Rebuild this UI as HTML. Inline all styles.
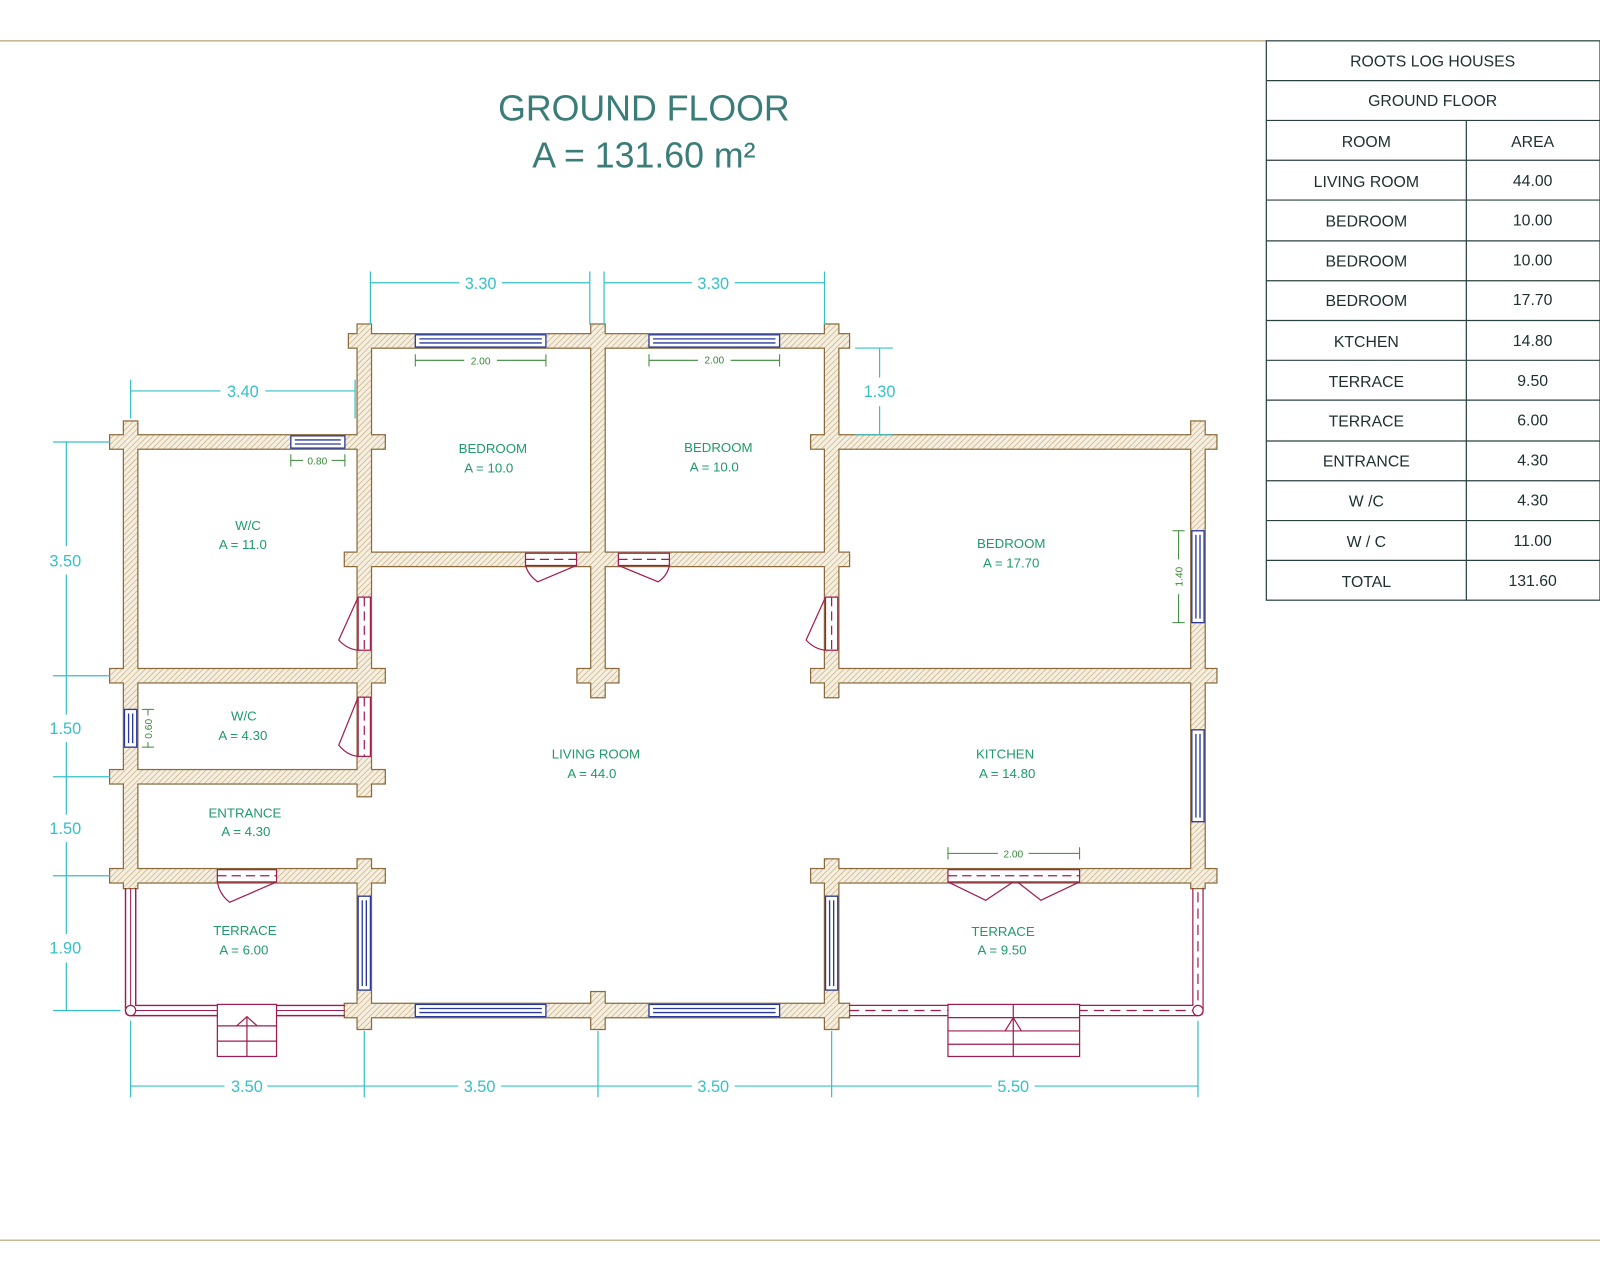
<!DOCTYPE html>
<html><head><meta charset="utf-8"><style>html,body{margin:0;padding:0;background:#fff}svg{display:block}</style></head>
<body>
<svg width="1600" height="1280" viewBox="0 0 1568 1254" preserveAspectRatio="none" xmlns="http://www.w3.org/2000/svg" font-family="Liberation Sans, sans-serif">
<defs>
<pattern id="h" width="4" height="4" patternUnits="userSpaceOnUse" patternTransform="rotate(45)">
<rect width="4" height="4" fill="#f6efe0"/><line x1="0" y1="0" x2="0" y2="4" stroke="#b8a070" stroke-width="1.1"/>
</pattern>
<g id="w">
<rect x="342" y="327.5" width="490" height="13"/>
<rect x="350.5" y="318" width="13" height="462"/>
<rect x="350.5" y="842" width="13" height="166"/>
<rect x="579.5" y="318" width="13" height="365"/>
<rect x="566" y="655.5" width="40" height="13"/>
<rect x="579.5" y="972" width="13" height="36"/>
<rect x="808.5" y="318" width="13" height="365"/>
<rect x="808.5" y="842" width="13" height="166"/>
<rect x="121.5" y="413" width="13" height="457"/>
<rect x="1167.5" y="413" width="13" height="457"/>
<rect x="108" y="426.5" width="269" height="13"/>
<rect x="795" y="426.5" width="397" height="13"/>
<rect x="338" y="541.5" width="494" height="13"/>
<rect x="108" y="655.5" width="269" height="13"/>
<rect x="795" y="655.5" width="397" height="13"/>
<rect x="108" y="754.5" width="269" height="13"/>
<rect x="108" y="851.5" width="269" height="13"/>
<rect x="795" y="851.5" width="397" height="13"/>
<rect x="338" y="983.5" width="494" height="13"/>
</g>
</defs>
<rect width="1568" height="1254" fill="#fff"/>
<line x1="0" y1="40" x2="1241" y2="40" stroke="#b8a070" stroke-width="1.2"/>
<line x1="0" y1="1215" x2="1568" y2="1215" stroke="#b8a070" stroke-width="1.2"/>

<!-- table -->
<g stroke="#2a4040" stroke-width="1.2" fill="none">
<rect x="1241" y="40" width="327" height="548"/>
<line x1="1241" y1="79" x2="1568" y2="79"/><line x1="1241" y1="118" x2="1568" y2="118"/>
<line x1="1241" y1="157" x2="1568" y2="157"/><line x1="1241" y1="196" x2="1568" y2="196"/>
<line x1="1241" y1="236" x2="1568" y2="236"/><line x1="1241" y1="275" x2="1568" y2="275"/>
<line x1="1241" y1="314" x2="1568" y2="314"/><line x1="1241" y1="353" x2="1568" y2="353"/>
<line x1="1241" y1="392" x2="1568" y2="392"/><line x1="1241" y1="432" x2="1568" y2="432"/>
<line x1="1241" y1="471" x2="1568" y2="471"/><line x1="1241" y1="510" x2="1568" y2="510"/>
<line x1="1241" y1="549" x2="1568" y2="549"/>
<line x1="1437" y1="118" x2="1437" y2="588"/>
</g>
<g fill="#203030" font-size="15.5" text-anchor="middle">
<text x="1404" y="65">ROOTS LOG HOUSES</text>
<text x="1404" y="104">GROUND FLOOR</text>
<text x="1339" y="144">ROOM</text><text x="1502" y="144">AREA</text>
<text x="1339" y="183">LIVING ROOM</text><text x="1502" y="182">44.00</text>
<text x="1339" y="222">BEDROOM</text><text x="1502" y="221">10.00</text>
<text x="1339" y="261">BEDROOM</text><text x="1502" y="260">10.00</text>
<text x="1339" y="300">BEDROOM</text><text x="1502" y="299">17.70</text>
<text x="1339" y="340">KTCHEN</text><text x="1502" y="339">14.80</text>
<text x="1339" y="379">TERRACE</text><text x="1502" y="378">9.50</text>
<text x="1339" y="418">TERRACE</text><text x="1502" y="417">6.00</text>
<text x="1339" y="457">ENTRANCE</text><text x="1502" y="456">4.30</text>
<text x="1339" y="496">W /C</text><text x="1502" y="495">4.30</text>
<text x="1339" y="536">W / C</text><text x="1502" y="535">11.00</text>
<text x="1339" y="575">TOTAL</text><text x="1502" y="574">131.60</text>
</g>

<g fill="#3a7c78" font-size="35" text-anchor="middle">
<text x="631" y="118">GROUND FLOOR</text>
<text x="631" y="164">A = 131.60 m²</text>
</g>

<!-- walls -->
<use href="#w" stroke="#8a6a3a" stroke-width="2.4" fill="none"/>
<use href="#w" stroke="none" fill="url(#h)"/>

<!-- windows -->
<g fill="#fff" stroke="#2a3a9a" stroke-width="1.3">
<rect x="407" y="328" width="128" height="12"/><line x1="411" y1="332" x2="531" y2="332"/><line x1="411" y1="336" x2="531" y2="336"/>
<rect x="636" y="328" width="128" height="12"/><line x1="640" y1="332" x2="760" y2="332"/><line x1="640" y1="336" x2="760" y2="336"/>
<rect x="285" y="427" width="53" height="12"/><line x1="289" y1="431" x2="334" y2="431"/><line x1="289" y1="435" x2="334" y2="435"/>
<rect x="407" y="984" width="128" height="12"/><line x1="411" y1="988" x2="531" y2="988"/><line x1="411" y1="992" x2="531" y2="992"/>
<rect x="636" y="984" width="128" height="12"/><line x1="640" y1="988" x2="760" y2="988"/><line x1="640" y1="992" x2="760" y2="992"/>
<rect x="122" y="695" width="12" height="37"/><line x1="126" y1="699" x2="126" y2="728"/><line x1="130" y1="699" x2="130" y2="728"/>
<rect x="1168" y="520" width="12" height="90"/><line x1="1172" y1="524" x2="1172" y2="606"/><line x1="1176" y1="524" x2="1176" y2="606"/>
<rect x="1168" y="715" width="12" height="90"/><line x1="1172" y1="719" x2="1172" y2="801"/><line x1="1176" y1="719" x2="1176" y2="801"/>
<rect x="351" y="878" width="12" height="92"/><line x1="355" y1="882" x2="355" y2="966"/><line x1="359" y1="882" x2="359" y2="966"/>
<rect x="809" y="878" width="12" height="92"/><line x1="813" y1="882" x2="813" y2="966"/><line x1="817" y1="882" x2="817" y2="966"/>
</g>

<!-- doors -->
<g fill="#fff" stroke="#a01c50" stroke-width="1.2">
<rect x="515" y="542" width="50" height="12"/><rect x="606" y="542" width="50" height="12"/>
<rect x="213" y="852" width="58" height="12"/><rect x="929" y="852" width="129" height="12"/>
<rect x="351" y="585" width="12" height="52"/><rect x="351" y="683" width="12" height="58"/>
<rect x="809" y="585" width="12" height="52"/>
</g>
<g fill="none" stroke="#a01c50" stroke-width="1.2">
<g stroke-dasharray="9,5">
<line x1="515" y1="548" x2="565" y2="548"/><line x1="606" y1="548" x2="656" y2="548"/>
<line x1="213" y1="858" x2="271" y2="858"/><line x1="929" y1="858" x2="1058" y2="858"/>
<line x1="357" y1="585" x2="357" y2="637"/><line x1="357" y1="683" x2="357" y2="741"/>
<line x1="815" y1="585" x2="815" y2="637"/>
</g>
<path d="M565 554 L527 570 Q518 564 515 554"/>
<path d="M606 554 L645 570 Q654 564 656 554"/>
<path d="M271 864 L225 884 Q215 876 213 864"/>
<path d="M929 864 L966 882 L993 864 M997 864 L1020 882 L1058 864"/>
<path d="M351 585 L332 627 Q340 636 351 637"/>
<path d="M351 683 L332 730 Q340 740 351 741"/>
<path d="M809 585 L790 627 Q798 636 809 637"/>
<!-- terrace rails -->
<path d="M123 870 V990 M133 870 V985 H338 M123 990 Q123 995 128 995 H338" stroke-width="1.4"/>
<path d="M128 870 V990 H338" stroke-width="1"/>
<path d="M832 985 H1169 V870 M832 995 H1174 Q1179 995 1179 990 V870"/>
<path d="M832 990 H1174 V870" stroke-dasharray="10,6"/>
<circle cx="128" cy="990" r="5" fill="#fff"/><circle cx="1174" cy="990" r="5" fill="#fff"/>
<rect x="213" y="984" width="58" height="51" fill="#fff"/>
<line x1="213" y1="1005" x2="271" y2="1005"/><line x1="213" y1="1020" x2="271" y2="1020"/>
<line x1="242" y1="996" x2="242" y2="1035"/><path d="M232 1005 L242 996 L252 1005"/>
<rect x="929" y="984" width="129" height="51" fill="#fff"/>
<line x1="929" y1="997" x2="1058" y2="997"/><line x1="929" y1="1010" x2="1058" y2="1010"/><line x1="929" y1="1023" x2="1058" y2="1023"/>
<line x1="993" y1="984" x2="993" y2="1035"/><path d="M985 1010 L993 997 L1001 1010"/>
</g>

<!-- room labels -->
<g fill="#1f9a6a" font-size="13" text-anchor="middle">
<text x="483" y="444">BEDROOM</text><text x="479" y="463">A = 10.0</text>
<text x="704" y="443">BEDROOM</text><text x="700" y="462">A = 10.0</text>
<text x="243" y="519">W/C</text><text x="238" y="538">A = 11.0</text>
<text x="991" y="537">BEDROOM</text><text x="991" y="556">A = 17.70</text>
<text x="239" y="706">W/C</text><text x="238" y="725">A = 4.30</text>
<text x="584" y="743">LIVING ROOM</text><text x="580" y="762">A = 44.0</text>
<text x="985" y="743">KITCHEN</text><text x="987" y="762">A = 14.80</text>
<text x="240" y="801">ENTRANCE</text><text x="241" y="819">A = 4.30</text>
<text x="240" y="916">TERRACE</text><text x="239" y="935">A = 6.00</text>
<text x="983" y="917">TERRACE</text><text x="982" y="935">A = 9.50</text>
</g>

<!-- green small dims -->
<g stroke="#3a8a3a" stroke-width="1" fill="none">
<path d="M407 347 V359 M407 353 H455 M487 353 H535 M535 347 V359"/>
<path d="M636 347 V359 M636 353 H684 M716 353 H764 M764 347 V359"/>
<path d="M285 445 V457 M285 451 H297 M325 451 H338 M338 445 V457"/>
<path d="M139 695 H151 M145 695 V701 M145 727 V732 M139 732 H151"/>
<path d="M1149 520 H1161 M1155 520 V548 M1155 582 V610 M1149 610 H1161"/>
<path d="M929 830 V842 M929 836 H978 M1008 836 H1058 M1058 830 V842"/>
</g>
<g fill="#3a8a3a" font-size="10" text-anchor="middle">
<text x="471" y="357">2.00</text><text x="700" y="356">2.00</text><text x="311" y="455">0.80</text>
<text x="993" y="840">2.00</text>
<text transform="translate(149,714) rotate(-90)">0.60</text>
<text transform="translate(1159,565) rotate(-90)">1.40</text>
</g>

<!-- cyan dims -->
<g stroke="#35c0c8" stroke-width="1.2" fill="none">
<path d="M363 266 V318 M578 266 V318 M592 266 V318 M808 266 V318"/>
<path d="M363 277 H450 M492 277 H578 M592 277 H678 M720 277 H808"/>
<path d="M128 372 V410 M348 372 V410 M128 383 H216 M260 383 H348"/>
<path d="M838 341 H875 M838 426 H875 M862 341 V370 M862 398 V426"/>
<path d="M52 433 H108 M52 662 H108 M52 761 H108 M52 858 H108 M52 990 H118"/>
<path d="M65 433 V535 M65 563 V662 M65 662 V700 M65 727 V761 M65 761 V798 M65 825 V858 M65 858 V915 M65 943 V990"/>
<path d="M128 1000 V1075 M357 1010 V1075 M586 1010 V1075 M815 1010 V1075 M1174 1000 V1075"/>
<path d="M128 1064 H220 M262 1064 H357 M357 1064 H449 M491 1064 H586 M586 1064 H678 M720 1064 H815 M815 1064 H972 M1014 1064 H1174"/>
</g>
<g fill="#35c0c8" font-size="16" text-anchor="middle">
<text x="471" y="283">3.30</text><text x="699" y="283">3.30</text>
<text x="238" y="389">3.40</text><text x="862" y="389">1.30</text>
<text x="64" y="555">3.50</text><text x="64" y="719">1.50</text><text x="64" y="817">1.50</text><text x="64" y="934">1.90</text>
<text x="242" y="1070">3.50</text><text x="470" y="1070">3.50</text><text x="699" y="1070">3.50</text><text x="993" y="1070">5.50</text>
</g>
</svg>
</body></html>
